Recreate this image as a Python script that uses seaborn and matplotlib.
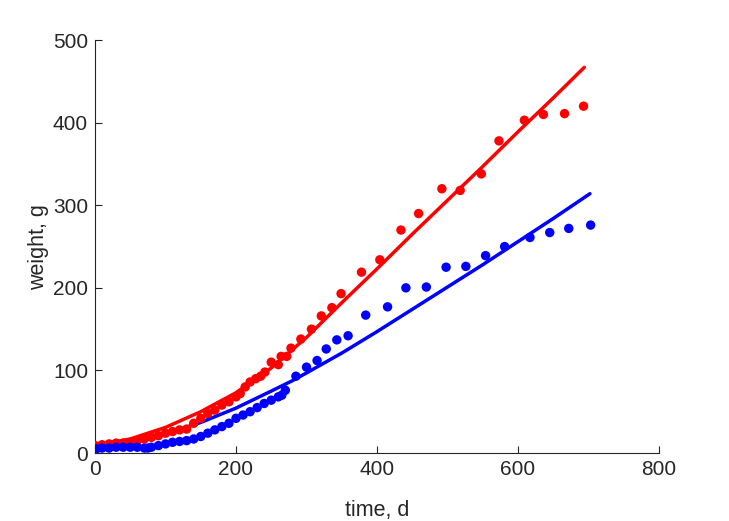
import matplotlib
matplotlib.use("Agg")
import matplotlib.pyplot as plt
import seaborn as sns
import numpy as np
import pandas as pd

# data: red (series 1)
red_x = [0, 10, 20, 30, 40, 50, 60, 70, 80, 90, 100, 110, 120, 130, 140, 150, 160, 170,
         180, 190, 200, 206, 213, 220, 228, 235, 241, 250, 260, 264, 272, 278, 292, 307,
         321, 336, 349, 378, 404, 434, 459, 492, 518, 548, 573, 609, 636, 666, 693]
red_y = [9, 10, 11, 12, 12, 13, 15, 17, 19, 21, 24, 26, 28, 29, 36, 42, 48, 52,
         58, 62, 68, 72, 80, 86, 90, 93, 98, 110, 107, 117, 117, 127, 138, 150,
         166, 176, 193, 219, 234, 270, 290, 320, 318, 338, 378, 403, 410, 411, 420]

# data: blue (series 2)
blue_x = [2, 10, 20, 30, 40, 50, 60, 70, 75, 80, 90, 100, 110, 120, 130, 140, 150, 160,
          170, 180, 190, 200, 210, 220, 230, 240, 250, 260, 265, 270, 285, 300, 315, 328,
          343, 359, 384, 415, 441, 470, 498, 526, 554, 581, 617, 645, 672, 703]
blue_y = [5, 6, 6, 7, 7, 7, 7, 6, 6, 7, 9, 11, 13, 14, 15, 17, 20, 24,
          28, 32, 36, 42, 46, 50, 55, 60, 64, 68, 70, 76, 93, 104, 112, 126,
          137, 142, 167, 177, 200, 201, 225, 226, 239, 250, 261, 267, 272, 276]

# fitted curves
red_fit_x = [0, 50, 100, 150, 200, 250, 300, 350, 400, 450, 500, 550, 600, 650, 694]
red_fit_y = [9, 17, 31, 50, 73, 103, 140, 182, 223, 265, 306, 347, 389, 430, 467]
blue_fit_x = [0, 50, 100, 150, 199, 250, 281, 300, 350, 400, 450, 500, 550, 600, 650, 702]
blue_fit_y = [7, 13, 23, 37, 54, 75, 88, 97, 121, 147, 174, 201, 228, 256, 284, 314]

xticks = [0, 200, 400, 600, 800]
yticks = [0, 100, 200, 300, 400, 500]

sns.set_style("white")
plt.rcParams['font.family'] = ['Liberation Sans', 'DejaVu Sans']

fig = plt.figure(figsize=(7.29, 5.21), dpi=100)
ax = fig.add_axes([0.1303, 0.1305, 0.904 - 0.1303, 0.923 - 0.1305])

RED = (1, 0, 0)
BLUE = (0, 0, 1)

sns.scatterplot(x=red_x, y=red_y, ax=ax, color=RED, s=46, edgecolor='none', zorder=3)
sns.scatterplot(x=blue_x, y=blue_y, ax=ax, color=BLUE, s=46, edgecolor='none', zorder=3)
sns.lineplot(x=red_fit_x, y=red_fit_y, ax=ax, color=RED, linewidth=2.5, sort=False, zorder=2)
sns.lineplot(x=blue_fit_x, y=blue_fit_y, ax=ax, color=BLUE, linewidth=2.5, sort=False, zorder=2)

ax.set_xlim(0, 800)
ax.set_ylim(0, 500)
ax.set_xticks(xticks)
ax.set_yticks(yticks)
axc = (0.15, 0.15, 0.15)
for side in ['top', 'right']:
    ax.spines[side].set_visible(False)
for side in ['left', 'bottom']:
    ax.spines[side].set_color(axc)
    ax.spines[side].set_linewidth(0.8)
ax.tick_params(bottom=True, left=True, top=False, right=False,
               direction='in', length=5, width=0.8, colors=axc, labelsize=15, pad=5)
ax.set_xlabel("time, d", fontsize=15.5, color=axc, labelpad=15)
ax.set_ylabel("weight, g", fontsize=15.5, color=axc, labelpad=3)

fig.savefig("out.png", dpi=100)
